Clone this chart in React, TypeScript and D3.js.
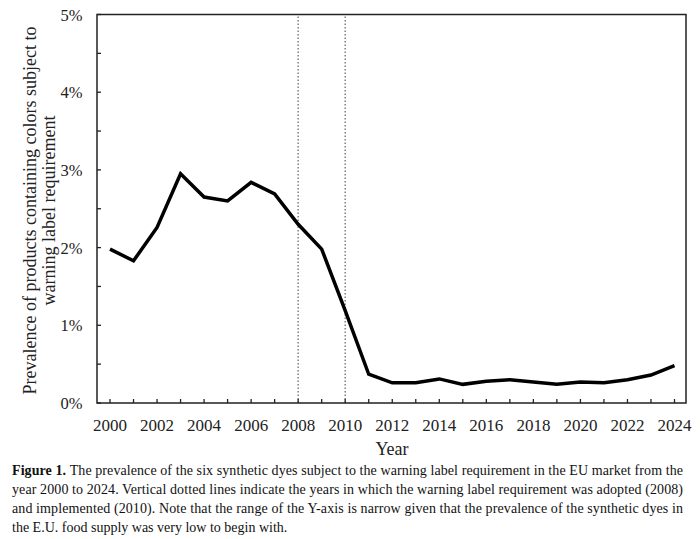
import { useEffect, useRef } from 'react';
import * as d3 from 'd3';

const years = d3.range(2000, 2025);
const prevalence = [
  1.98, 1.83, 2.26, 2.95, 2.65, 2.60, 2.84, 2.69, 2.30, 1.98, 1.19, 0.37, 0.26,
  0.26, 0.31, 0.24, 0.28, 0.30, 0.27, 0.24, 0.27, 0.26, 0.30, 0.36, 0.48,
];
const policyYears = [2008, 2010];
const yTicks = [0, 1, 2, 3, 4, 5];
const yMinorTicks = d3.range(0, 5.01, 0.5);
const xLabelYears = d3.range(2000, 2025, 2);

const yTitle = ['Prevalence of products containing colors subject to', 'warning label requirement'];
const captionLines = [
  'The prevalence of the six synthetic dyes subject to the warning label requirement in the EU market from the',
  'year 2000 to 2024. Vertical dotted lines indicate the years in which the warning label requirement was adopted (2008)',
  'and implemented (2010). Note that the range of the Y-axis is narrow given that the prevalence of the synthetic dyes in',
  'the E.U. food supply was very low to begin with.',
];

const W = 700;
const H = 539;
const font = '"Liberation Serif", "Times New Roman", serif';

export default function App() {
  const svgRef = useRef<SVGSVGElement>(null);

  useEffect(() => {
    if (!svgRef.current) return;
    const svg = d3.select(svgRef.current);
    svg.selectAll('*').remove();

    const left = 97, right = 686, top = 14.5, bottom = 403;

    const x = d3.scaleLinear().domain([2000, 2024]).range([110, 674.5]);
    const y = d3.scaleLinear().domain([0, 5]).range([bottom, top]);

    const g = svg.append('g').attr('font-family', font);

    // lineas punteadas 2008 / 2010
    g.selectAll('line.policy')
      .data(policyYears)
      .enter().append('line')
      .attr('x1', d => x(d)).attr('x2', d => x(d))
      .attr('y1', bottom).attr('y2', top)
      .attr('stroke', '#808080')
      .attr('stroke-width', 1.5)
      .attr('stroke-dasharray', '1.5,2');

    // marco
    g.append('path')
      .attr('d', `M${left},${bottom}V${top}H${right}V${bottom}Z`)
      .attr('fill', 'none')
      .attr('stroke', '#222')
      .attr('stroke-width', 1.5);

    // ticks Y hacia adentro
    g.selectAll('line.ytick')
      .data(yMinorTicks)
      .enter().append('line')
      .attr('x1', left).attr('x2', left + 4)
      .attr('y1', d => y(d)).attr('y2', d => y(d))
      .attr('stroke', '#222').attr('stroke-width', 1.3);

    g.selectAll('text.ylab')
      .data(yTicks)
      .enter().append('text')
      .attr('x', 82.5)
      .attr('y', d => y(d) + 6)
      .attr('text-anchor', 'end')
      .attr('font-size', 16.5)
      .attr('fill', '#222')
      .text(d => `${d}%`);

    // ticks X hacia adentro
    g.selectAll('line.xtick')
      .data(years)
      .enter().append('line')
      .attr('x1', d => x(d)).attr('x2', d => x(d))
      .attr('y1', bottom).attr('y2', bottom - 4)
      .attr('stroke', '#222').attr('stroke-width', 1.3);

    g.selectAll('text.xlab')
      .data(xLabelYears)
      .enter().append('text')
      .attr('x', d => x(d))
      .attr('y', 431)
      .attr('text-anchor', 'middle')
      .attr('font-size', 17)
      .attr('fill', '#222')
      .text(d => d);

    g.append('text')
      .attr('x', 392).attr('y', 455)
      .attr('text-anchor', 'middle')
      .attr('font-size', 18)
      .attr('fill', '#222')
      .text('Year');

    // titulo Y
    const yt = g.append('text')
      .attr('transform', 'translate(36,210.5) rotate(-90)')
      .attr('text-anchor', 'middle')
      .attr('font-size', 18)
      .attr('fill', '#222');
    yTitle.forEach((t, i) => {
      yt.append('tspan').attr('x', 0).attr('dy', i === 0 ? 0 : 18.5).text(t);
    });

    // linea de datos
    const line = d3.line<number>()
      .x((_, i) => x(years[i]))
      .y(d => y(d));

    g.append('path')
      .datum(prevalence)
      .attr('fill', 'none')
      .attr('stroke', '#000')
      .attr('stroke-width', 3.5)
      .attr('stroke-linejoin', 'miter')
      .attr('d', line);

    // leyenda de la figura
    const cap = g.append('g').attr('font-size', 14).attr('fill', '#111');
    captionLines.forEach((t, i) => {
      const txt = cap.append('text')
        .attr('x', 12)
        .attr('y', 475 + i * 19);
      if (i === 0) {
        txt.append('tspan').attr('font-weight', 'bold').text('Figure 1. ');
      }
      txt.append('tspan').text(t);
      if (i < captionLines.length - 1) {
        txt.attr('textLength', 671).attr('lengthAdjust', 'spacing');
      }
    });
  }, []);

  return (
    <svg
      ref={svgRef}
      width={W}
      height={H}
      style={{ position: 'absolute', left: 0, top: 0, display: 'block' }}
    />
  );
}
